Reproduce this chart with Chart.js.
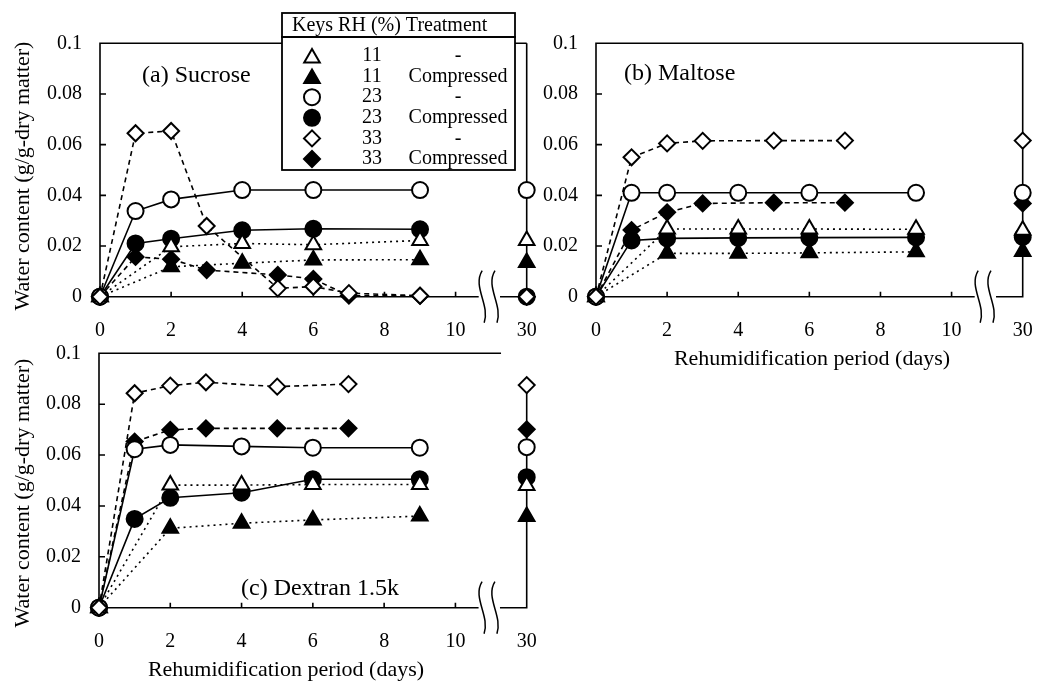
<!DOCTYPE html>
<html>
<head>
<meta charset="utf-8">
<script src="https://cdn.jsdelivr.net/npm/chart.js@4.4.1/dist/chart.umd.min.js"></script>
<style>
  html, body { margin: 0; padding: 0; background: #fff; }
  #wrap { position: relative; width: 1038px; height: 688px; }
  canvas { position: absolute; left: 0; top: 0; }
</style>
</head>
<body>
<div id="wrap">
  <canvas id="chartA" width="1038" height="688"></canvas>
  <canvas id="chartB" width="1038" height="688"></canvas>
  <canvas id="chartC" width="1038" height="688"></canvas>
</div>
<script>
// sampling days (30 is drawn behind the axis break)
const daysTriangle = [0, 2, 4, 6, 9, 30];
const daysCircle = [0, 1, 2, 4, 6, 9, 30];
const daysDiamondSuc = [0, 1, 2, 3, 5, 6, 7, 9, 30];
const daysDiamond = [0, 1, 2, 3, 5, 7, 30];

// (a) sucrose
const sucRh11 = [0, 0.0197, 0.021, 0.0205, 0.0222, 0.0222];
const sucRh11c = [0, 0.0118, 0.0132, 0.0145, 0.0146, 0.0135];
const sucRh23 = [0, 0.0338, 0.0384, 0.0421, 0.0421, 0.0421, 0.0421];
const sucRh23c = [0, 0.021, 0.0229, 0.0262, 0.0268, 0.0266, 0];
const sucRh33 = [0, 0.0645, 0.0654, 0.0279, 0.0033, 0.004, 0.0014, 0.0004, 0];
const sucRh33c = [0, 0.0157, 0.0148, 0.0105, 0.0086, 0.007, 0.0004, 0.0003, 0];

// (b) maltose
const malRh11 = [0, 0.0267, 0.0267, 0.0267, 0.0266, 0.0262];
const malRh11c = [0, 0.0171, 0.0171, 0.0173, 0.0177, 0.0178];
const malRh23 = [0, 0.041, 0.041, 0.041, 0.041, 0.041, 0.041];
const malRh23c = [0, 0.0222, 0.023, 0.0232, 0.0233, 0.0234, 0.0236];
const malRh33 = [0, 0.055, 0.0605, 0.0615, 0.0616, 0.0616, 0.0616];
const malRh33c = [0, 0.0263, 0.0333, 0.0368, 0.0371, 0.0371, 0.0368];

// (c) dextran 1.5k
const dexRh11 = [0, 0.0482, 0.0482, 0.0484, 0.0484, 0.048];
const dexRh11c = [0, 0.0312, 0.0332, 0.0345, 0.036, 0.0358];
const dexRh23 = [0, 0.0623, 0.064, 0.0634, 0.0629, 0.0629, 0.0631];
const dexRh23c = [0, 0.0349, 0.0432, 0.0452, 0.0505, 0.0505, 0.0513];
const dexRh33 = [0, 0.0843, 0.0873, 0.0886, 0.0869, 0.0879, 0.0875];
const dexRh33c = [0, 0.0653, 0.0699, 0.0705, 0.0705, 0.0705, 0.0701];

const legendRH = ['11', '11', '23', '23', '33', '33'];
const legendTreatment = ['-', 'Compressed', '-', 'Compressed', '-', 'Compressed'];
const yTicks = [0, 0.02, 0.04, 0.06, 0.08, 0.1];
const xTicks = [0, 2, 4, 6, 8, 10];

const BREAK_POS = 12;          // axis position used for day 30
const axisPos = d => (d === 30 ? BREAK_POS : d);

const styles = [
  { shape: 'triangle', filled: false, dash: [2, 4], radius: 9, order: 1 },
  { shape: 'triangle', filled: true,  dash: [2, 4], radius: 9, order: 3 },
  { shape: 'circle',   filled: false, dash: [],     radius: 8, order: 2 },
  { shape: 'circle',   filled: true,  dash: [],     radius: 8, order: 4 },
  { shape: 'rectRot',  filled: false, dash: [5, 4], radius: 8, order: 0 },
  { shape: 'rectRot',  filled: true,  dash: [5, 4], radius: 8, order: 5 }
];

const serif = 'Liberation Serif';
const tickFont = { family: serif, size: 20 };

function makeDataset(days, values, i) {
  const st = styles[i];
  const fill = st.filled ? '#000' : '#fff';
  return {
    label: legendRH[i] + ' ' + legendTreatment[i],
    data: days.map((d, k) => ({ x: axisPos(d), y: values[k] })),
    borderColor: '#000',
    borderWidth: 1.6,
    borderDash: st.dash,
    backgroundColor: fill,
    pointBackgroundColor: fill,
    pointBorderColor: '#000',
    pointBorderWidth: 2,
    pointStyle: st.shape,
    pointRadius: st.radius,
    pointHoverRadius: st.radius,
    tension: 0,
    clip: false,
    order: st.order,
    segment: {
      borderColor: ctx => (ctx.p1.parsed.x === BREAK_POS ? 'rgba(0,0,0,0)' : undefined)
    }
  };
}

function drawBreak(ctx, cx, cy) {
  ctx.beginPath();
  ctx.moveTo(cx + 1, cy - 26);
  ctx.bezierCurveTo(cx - 9, cy - 10, cx + 9, cy + 8, cx + 3, cy + 26);
  ctx.stroke();
}

function drawLegend(ctx) {
  const left = 282, right = 515;
  ctx.save();
  ctx.fillStyle = '#fff';
  ctx.fillRect(left, 13, right - left, 157);
  ctx.strokeStyle = '#000';
  ctx.lineWidth = 1.8;
  ctx.strokeRect(left, 13, right - left, 24);
  ctx.strokeRect(left, 37, right - left, 133);
  ctx.fillStyle = '#000';
  ctx.font = '20px "' + serif + '"';
  ctx.textBaseline = 'middle';
  ctx.textAlign = 'left';
  ctx.fillText('Keys RH (%) Treatment', 292, 26);
  ctx.textAlign = 'center';
  for (let i = 0; i < 6; i++) {
    const y = 56 + i * 20.6;
    const st = styles[i];
    ctx.fillStyle = '#000';
    ctx.fillText(legendRH[i], 372, y);
    ctx.fillText(legendTreatment[i], 458, y);
    ctx.fillStyle = st.filled ? '#000' : '#fff';
    ctx.strokeStyle = '#000';
    ctx.lineWidth = 2;
    Chart.helpers.drawPoint(ctx, { pointStyle: st.shape, radius: st.radius, rotation: 0, borderWidth: 2 }, 312, y + (st.shape === 'triangle' ? 2 : 0));
  }
  ctx.restore();
}

function framePlugin(p) {
  return {
    id: 'frame',
    beforeDatasetsDraw(chart) {
      const ctx = chart.ctx;
      const X = v => chart.scales.x.getPixelForValue(v);
      const Y = v => chart.scales.y.getPixelForValue(v);
      ctx.save();
      ctx.strokeStyle = '#000';
      ctx.lineWidth = 1.6;
      ctx.beginPath();
      ctx.moveTo(X(p.topEnd), Y(0.1));
      ctx.lineTo(X(0), Y(0.1));
      ctx.lineTo(X(0), Y(0));
      ctx.lineTo(X(10.65), Y(0));
      ctx.moveTo(X(11.25), Y(0));
      ctx.lineTo(X(BREAK_POS), Y(0));
      ctx.lineTo(X(BREAK_POS), Y(p.rightTop));
      if (p.topEnd === BREAK_POS) ctx.lineTo(X(BREAK_POS), Y(0.1));
      // inward ticks
      xTicks.slice(1).forEach(v => { ctx.moveTo(X(v), Y(0)); ctx.lineTo(X(v), Y(0) - 5); });
      yTicks.slice(1, -1).forEach(v => { ctx.moveTo(X(0), Y(v)); ctx.lineTo(X(0) + 6, Y(v)); });
      ctx.stroke();
      ctx.lineWidth = 1.5;
      drawBreak(ctx, X(10.72), Y(0));
      drawBreak(ctx, X(11.08), Y(0));
      ctx.restore();
    },
    afterDraw(chart) {
      const ctx = chart.ctx;
      ctx.save();
      ctx.fillStyle = '#000';
      ctx.textBaseline = 'middle';
      ctx.textAlign = 'left';
      ctx.font = '24px "' + serif + '"';
      ctx.fillText(p.label, p.labelX, p.labelY);
      ctx.font = '22px "' + serif + '"';
      ctx.textAlign = 'center';
      if (p.xTitle) ctx.fillText('Rehumidification period (days)', p.xTitle[0], p.xTitle[1]);
      if (p.yTitle) {
        ctx.translate(p.yTitle[0], p.yTitle[1]);
        ctx.rotate(-Math.PI / 2);
        ctx.fillText('Water content (g/g-dry matter)', 0, 0);
      }
      ctx.restore();
      if (p.legend) drawLegend(ctx);
    }
  };
}

function makeChart(id, series, pad, yWidth, p) {
  const datasets = series.map((s, i) => makeDataset(s[0], s[1], i));
  return new Chart(document.getElementById(id), {
    type: 'line',
    data: { datasets: datasets },
    options: {
      responsive: false,
      animation: false,
      devicePixelRatio: 1,
      layout: { padding: pad },
      plugins: { legend: { display: false }, tooltip: { enabled: false } },
      events: [],
      scales: {
        x: {
          type: 'linear', min: 0, max: BREAK_POS,
          afterFit: s => { s.height = 40; s.paddingLeft = 0; s.paddingRight = 0; },
          grid: { display: false, drawTicks: false },
          border: { display: false },
          ticks: {
            stepSize: 2, autoSkip: false, maxRotation: 0, padding: 22,
            color: '#000', font: tickFont,
            callback: v => (v === BREAK_POS ? '30' : String(v))
          }
        },
        y: {
          min: 0, max: 0.1,
          afterFit: s => { s.width = yWidth; },
          grid: { display: false, drawTicks: false },
          border: { display: false },
          ticks: {
            stepSize: 0.02, padding: 18, color: '#000', font: tickFont,
            callback: v => String(Math.round(v * 100) / 100)
          }
        }
      }
    },
    plugins: [framePlugin(p)]
  });
}

const sucrose = [[daysTriangle, sucRh11], [daysTriangle, sucRh11c], [daysCircle, sucRh23],
  [daysCircle, sucRh23c], [daysDiamondSuc, sucRh33], [daysDiamondSuc, sucRh33c]];
const maltose = [[daysTriangle, malRh11], [daysTriangle, malRh11c], [daysCircle, malRh23],
  [daysCircle, malRh23c], [daysDiamond, malRh33], [daysDiamond, malRh33c]];
const dextran = [[daysTriangle, dexRh11], [daysTriangle, dexRh11c], [daysCircle, dexRh23],
  [daysCircle, dexRh23c], [daysDiamond, dexRh33], [daysDiamond, dexRh33c]];

const dexTop = Math.max(...dextran.map(s => s[1][s[1].length - 1]));

makeChart('chartA', sucrose, { left: 0, top: 43.3, right: 511.3, bottom: 351.3 }, 100,
  { label: '(a) Sucrose', labelX: 142, labelY: 76, topEnd: BREAK_POS, rightTop: 0.1,
    yTitle: [23, 176], legend: true });
makeChart('chartB', maltose, { left: 496, top: 43.3, right: 15.3, bottom: 351.3 }, 100,
  { label: '(b) Maltose', labelX: 624, labelY: 74, topEnd: BREAK_POS, rightTop: 0.1,
    xTitle: [812, 359] });
makeChart('chartC', dextran, { left: 0, top: 353.3, right: 511.3, bottom: 40.3 }, 99,
  { label: '(c) Dextran 1.5k', labelX: 241, labelY: 589, topEnd: 11.28, rightTop: dexTop,
    yTitle: [23, 493], xTitle: [286, 670] });
</script>
</body>
</html>
